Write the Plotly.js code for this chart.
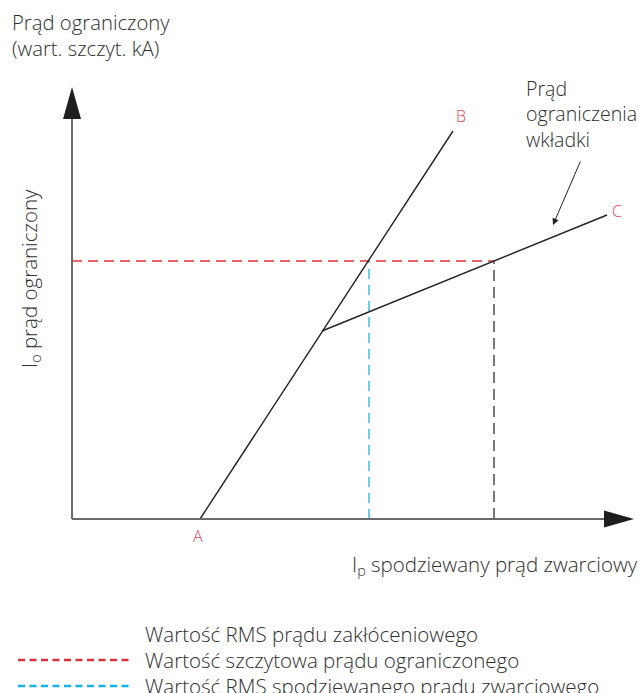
<!DOCTYPE html>
<html>
<head>
<meta charset="utf-8">
<script src="https://cdn.plot.ly/plotly-3.0.1.min.js"></script>
<style>html,body{margin:0;padding:0;background:#fff;}#chart{width:639px;height:693px;}</style>
</head>
<body>
<div id="chart"></div>
<script>
// ---- data (schematic units) ----
const pointA = [12.8, 0];      // start of unrestricted peak line
const pointB = [38.1, 38.8];   // end of unrestricted peak line
const kink   = [25.0, 18.8];   // start of fuse cut-off line
const pointC = [53.5, 30.4];   // end of fuse cut-off line
const peakLevel = 25.8;        // limited peak current
const rmsFault = 29.7;         // RMS prospective (cyan)
const rmsDisturb = 42.2;       // RMS disturbance (black)
const axisEndX = 56.2;
const axisEndY = 43.2;
const pointLabels = ['A', 'B', 'C'];
const legendLabels = [
  'Wartość RMS prądu zakłóceniowego',
  'Wartość szczytowa prądu ograniczonego',
  'Wartość RMS spodziewanego prądu zwarciowego'
];
const legendColors = ['rgba(0,0,0,0)', '#d6323c', '#12b2ea'];

const W = 639, H = 693;
const px = x => x / W;
const py = y => 1 - y / H;
const FONT = '"Open Sans", Roboto, sans-serif';
const TXT = '#2e2e2e';
const RED = '#e8303a';
const CYAN = '#1ab0e6';
const LBL = '#e0475a';

const traces = [
  {x: [0, rmsDisturb], y: [peakLevel, peakLevel], mode: 'lines',
   line: {color: RED, width: 1.3, dash: '10px,6px'}},
  {x: [rmsFault, rmsFault], y: [0, peakLevel], mode: 'lines',
   line: {color: CYAN, width: 1.3, dash: '10px,6px'}},
  {x: [rmsDisturb, rmsDisturb], y: [0, peakLevel], mode: 'lines',
   line: {color: '#333', width: 1.3, dash: '11px,6px'}},
  {x: [pointA[0], pointB[0]], y: [pointA[1], pointB[1]], mode: 'lines',
   line: {color: '#222', width: 1.4}},
  {x: [kink[0], pointC[0]], y: [kink[1], pointC[1]], mode: 'lines',
   line: {color: '#222', width: 1.4}}
];

const shapes = [
  // axes
  {type: 'line', xref: 'x', yref: 'y', x0: 0, y0: 0, x1: axisEndX - 2, y1: 0,
   line: {color: '#6a6a6a', width: 2}},
  {type: 'line', xref: 'x', yref: 'y', x0: 0, y0: 0, x1: 0, y1: axisEndY - 2,
   line: {color: '#6a6a6a', width: 2}},
  {type: 'path', xref: 'x', yref: 'y',
   path: `M${axisEndX},0 L${axisEndX - 3.0},0.85 L${axisEndX - 3.0},-0.85 Z`,
   fillcolor: '#1e1e1e', line: {width: 0}},
  {type: 'path', xref: 'x', yref: 'y',
   path: `M0,${axisEndY} L0.9,${axisEndY - 3.2} L-0.9,${axisEndY - 3.2} Z`,
   fillcolor: '#1e1e1e', line: {width: 0}}
];

// legend samples
const legendY = [634, 660, 686];
legendLabels.forEach((t, i) => {
  shapes.push({type: 'line', xref: 'paper', yref: 'paper',
    x0: px(18), x1: px(131), y0: py(legendY[i]), y1: py(legendY[i]),
    line: {color: legendColors[i], width: 2.5, dash: '7px,4.5px'}});
});

const ann = [
  {xref: 'paper', yref: 'paper', x: px(10), y: py(6), xanchor: 'left', yanchor: 'top',
   align: 'left', showarrow: false,
   text: 'Prąd ograniczony<br>(wart. szczyt. kA)', font: {family: FONT, size: 20.3, color: TXT, weight: 300}},
  {xref: 'paper', yref: 'paper', x: px(30), y: py(279), xanchor: 'center', yanchor: 'middle',
   textangle: -90, showarrow: false,
   text: 'I<sub>o</sub> prąd ograniczony', font: {family: FONT, size: 20.5, color: TXT, weight: 300}},
  {xref: 'paper', yref: 'paper', x: px(350), y: py(565), xanchor: 'left', yanchor: 'middle',
   showarrow: false,
   text: 'I<sub>p</sub> spodziewany prąd zwarciowy', font: {family: FONT, size: 20.5, color: TXT, weight: 300}},
  {xref: 'paper', yref: 'paper', x: px(524), y: py(73), xanchor: 'left', yanchor: 'top',
   align: 'left', showarrow: false,
   text: 'Prąd<br>ograniczenia<br>wkładki', font: {family: FONT, size: 19.6, color: TXT, weight: 300}},
  // arrow
  {xref: 'x', yref: 'y', x: 48.1, y: 29.4, ax: 28, ay: -65, text: '', showarrow: true,
   arrowhead: 2, arrowsize: 1.3, arrowwidth: 1, arrowcolor: '#222'},
  // point labels
  {xref: 'x', yref: 'y', x: pointA[0], y: pointA[1], yshift: -17, xshift: -2, text: pointLabels[0],
   showarrow: false, font: {family: FONT, size: 16, color: LBL, weight: 300}},
  {xref: 'x', yref: 'y', x: pointB[0], y: pointB[1], yshift: 15, xshift: 8, text: pointLabels[1],
   showarrow: false, font: {family: FONT, size: 16, color: LBL, weight: 300}},
  {xref: 'x', yref: 'y', x: pointC[0], y: pointC[1], yshift: 4, xshift: 10, text: pointLabels[2],
   showarrow: false, font: {family: FONT, size: 16, color: LBL, weight: 300}}
];
legendLabels.forEach((t, i) => {
  ann.push({xref: 'paper', yref: 'paper', x: px(143), y: py(legendY[i]), xanchor: 'left', yanchor: 'middle',
    showarrow: false, text: t, font: {family: FONT, size: 20.5, color: TXT, weight: 300}});
});

const layout = {
  width: W, height: H,
  margin: {l: 0, r: 0, t: 0, b: 0},
  paper_bgcolor: '#fff', plot_bgcolor: '#fff',
  showlegend: false,
  xaxis: {range: [-7.2, 56.7], visible: false, fixedrange: true},
  yaxis: {range: [-17.4, 51.9], visible: false, fixedrange: true},
  shapes: shapes,
  annotations: ann
};

Plotly.newPlot('chart', traces, layout, {displayModeBar: false, staticPlot: true});
</script>
</body>
</html>
